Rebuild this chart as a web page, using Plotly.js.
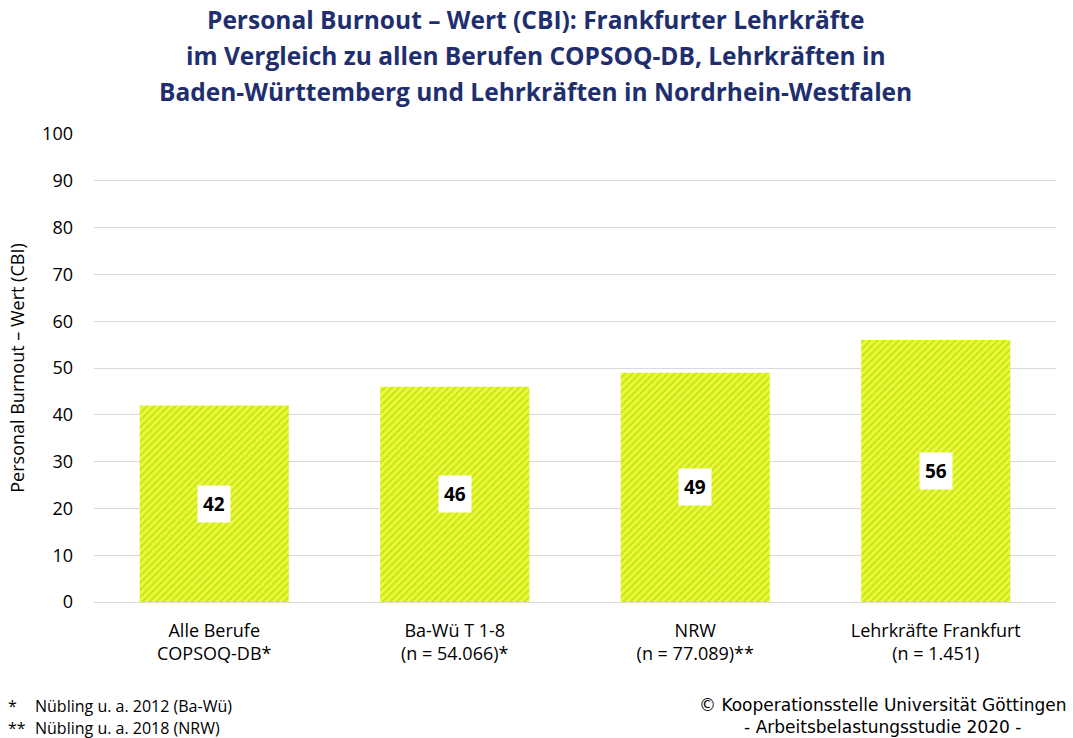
<!DOCTYPE html>
<html>
<head>
<meta charset="utf-8">
<script src="https://cdn.plot.ly/plotly-3.0.1.min.js"></script>
<style>
  html, body { margin: 0; padding: 0; background: #fff; }
  #plot { width: 1073px; height: 738px; }
</style>
</head>
<body>
<div id="plot"></div>
<script>
const categories = [
  'Alle Berufe<br>COPSOQ-DB*',
  'Ba-Wü T 1-8<br>(n = 54.066)*',
  'NRW<br>(n = 77.089)**',
  'Lehrkräfte Frankfurt<br>(n = 1.451)'
];
const values = [42, 46, 49, 56];
const yTicks = [0, 10, 20, 30, 40, 50, 60, 70, 80, 90, 100];

const titleLines = [
  'Personal Burnout – Wert (CBI): Frankfurter Lehrkräfte',
  'im Vergleich zu allen Berufen COPSOQ-DB, Lehrkräften in',
  'Baden-Württemberg und Lehrkräften in Nordrhein-Westfalen'
];

const font = 'Open Sans, Noto Sans, sans-serif';

const trace = {
  type: 'bar',
  x: categories,
  y: values,
  marker: {
    color: '#E8FC3A',
    line: { width: 0 },
    pattern: {
      shape: '/',
      bgcolor: '#E8FC3A',
      fgcolor: '#B8CA00',
      fillmode: 'overlay',
      size: 5,
      solidity: 0.45
    }
  },
  hoverinfo: 'x+y'
};

const labelNotes = categories.map((c, i) => ({
  x: c,
  y: values[i] / 2,
  text: '<b>' + values[i] + '</b>',
  showarrow: false,
  bgcolor: '#ffffff',
  borderpad: 5,
  font: { family: font, size: 19, color: '#000' }
}));

// title lines as separate notes so the line spacing can follow the reference
const titleNotes = titleLines.map((t, i) => ({
  xref: 'paper', yref: 'paper',
  x: 0.459, y: 1.245 - i * 0.077,
  xanchor: 'center', yanchor: 'middle',
  text: '<b>' + t + '</b>',
  showarrow: false,
  font: { family: font, size: 24.5, color: '#1F2F6E' }
}));

const footNotes = [
  {
    xref: 'paper', yref: 'paper', x: -0.091, y: -0.222,
    xanchor: 'left', yanchor: 'middle',
    text: '*', showarrow: false, font: { family: font, size: 16, color: '#000' }
  },
  {
    xref: 'paper', yref: 'paper', x: -0.0634, y: -0.222,
    xanchor: 'left', yanchor: 'middle',
    text: 'Nübling u. a. 2012 (Ba-Wü)', showarrow: false, font: { family: font, size: 16, color: '#000' }
  },
  {
    xref: 'paper', yref: 'paper', x: -0.091, y: -0.269,
    xanchor: 'left', yanchor: 'middle',
    text: '**', showarrow: false, font: { family: font, size: 16, color: '#000' }
  },
  {
    xref: 'paper', yref: 'paper', x: -0.0634, y: -0.269,
    xanchor: 'left', yanchor: 'middle',
    text: 'Nübling u. a. 2018 (NRW)', showarrow: false, font: { family: font, size: 16, color: '#000' }
  },
  {
    xref: 'paper', yref: 'paper', x: 1.012, y: -0.2436,
    xanchor: 'right', yanchor: 'middle', align: 'center',
    text: '© Kooperationsstelle Universität Göttingen<br>- Arbeitsbelastungsstudie 2020 -',
    showarrow: false, font: { family: 'DejaVu Sans, sans-serif', size: 17, color: '#000' }
  }
];

const layout = {
  width: 1073,
  height: 738,
  paper_bgcolor: '#fff',
  plot_bgcolor: '#fff',
  margin: { l: 94, r: 17, t: 134, b: 136 },
  bargap: 0.38,
  showlegend: false,
  xaxis: {
    showgrid: false,
    showline: false,
    ticks: '',
    ticklabelstandoff: 16,
    tickfont: { family: font, size: 18, color: '#000' }
  },
  yaxis: {
    range: [0, 100],
    tickvals: yTicks,
    showgrid: true,
    gridcolor: '#D9D9D9',
    gridwidth: 1,
    zeroline: true,
    zerolinecolor: '#D9D9D9',
    zerolinewidth: 1,
    ticks: '',
    ticklabelstandoff: 20,
    tickfont: { family: font, size: 18, color: '#000' },
    title: {
      text: 'Personal Burnout – Wert (CBI)',
      font: { family: font, size: 18, color: '#000' },
      standoff: 12
    }
  },
  annotations: titleNotes.concat(labelNotes, footNotes)
};

Plotly.newPlot('plot', [trace], layout, { displayModeBar: false, staticPlot: true });
</script>
</body>
</html>
